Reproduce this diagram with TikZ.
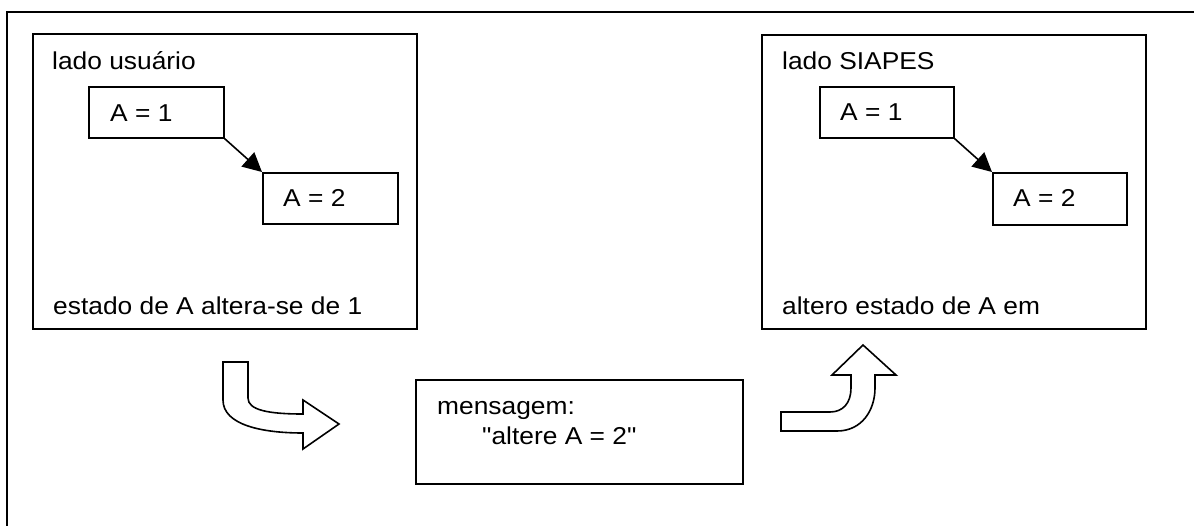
\documentclass[tikz,border=0pt]{standalone}
\usepackage{fontspec}
\setmainfont{Liberation Sans}[FakeStretch=1.08,Ligatures=TeXOff]
\usetikzlibrary{arrows.meta}
\begin{document}
\begin{tikzpicture}[x=1pt,y=-1pt,
  frame/.style={draw=black,line width=1.7pt},
  box/.style={draw=black,line width=1.6pt,rectangle,inner sep=0pt,anchor=north west},
  lbl/.style={anchor=base west,inner sep=0pt,font=\fontsize{24.4}{29}\selectfont},
  link/.style={line width=1.6pt,-{Triangle[length=19pt,width=19pt]}},
  bentarrow/.style={draw=black,line width=1.6pt,fill=white,line join=miter}]
\useasboundingbox (0,0) rectangle (1194,525);
\begin{scope}
\clip (0,0) rectangle (1194,525);
\draw[frame] (7,540) -- (7,12) -- (1210,12);
\end{scope}
% left side
\node[box,minimum width=384pt,minimum height=295pt] (lbox) at (32,33) {};
\node[lbl] (ltitle) at (52,69) {lado usuário};
\node[box,minimum width=135pt,minimum height=51pt] (la1) at (88,86) {};
\node[lbl] (la1t) at (110,121) {A = 1};
\node[box,minimum width=135pt,minimum height=51pt] (la2) at (262,172) {};
\node[lbl] (la2t) at (283,206) {A = 2};
\node[lbl] (lfoot) at (53,314) {estado de A altera-se de 1};
\draw[link] (la1.south east) -- (la2.north west);
% right side
\node[box,minimum width=384pt,minimum height=294pt] (rbox) at (761,34) {};
\node[lbl] (rtitle) at (782,69) {lado SIAPES};
\node[box,minimum width=134pt,minimum height=51pt] (ra1) at (819,86) {};
\node[lbl] (ra1t) at (840,120) {A = 1};
\node[box,minimum width=134pt,minimum height=52pt] (ra2) at (992,172) {};
\node[lbl] (ra2t) at (1013,206) {A = 2};
\node[lbl] (rfoot) at (782,314) {altero estado de A em};
\draw[link] (ra1.south east) -- (ra2.north west);
% message
\node[box,minimum width=327pt,minimum height=104pt] (msg) at (415,379) {};
\node[lbl] (msg1) at (437,414) {mensagem:};
\node[lbl] (msg2) at (482,444) {"altere A = 2"};
% bent arrows
\draw[bentarrow] (223,362) -- (223,400) .. controls (223,425) and (262,433) .. (303,433)
  -- (303,449) -- (339,424) -- (303,400) -- (303,414)
  .. controls (268,414) and (248,410) .. (248,398) -- (248,362) -- cycle;
\draw[bentarrow] (781,412) -- (781,431) -- (837,431) .. controls (862,431) and (875,410) .. (875,388)
  -- (875,375) -- (896,375) -- (863,345) -- (832,375) -- (851,375) -- (851,388)
  .. controls (851,403) and (843,412) .. (830,412) -- cycle;
\end{tikzpicture}
\end{document}
